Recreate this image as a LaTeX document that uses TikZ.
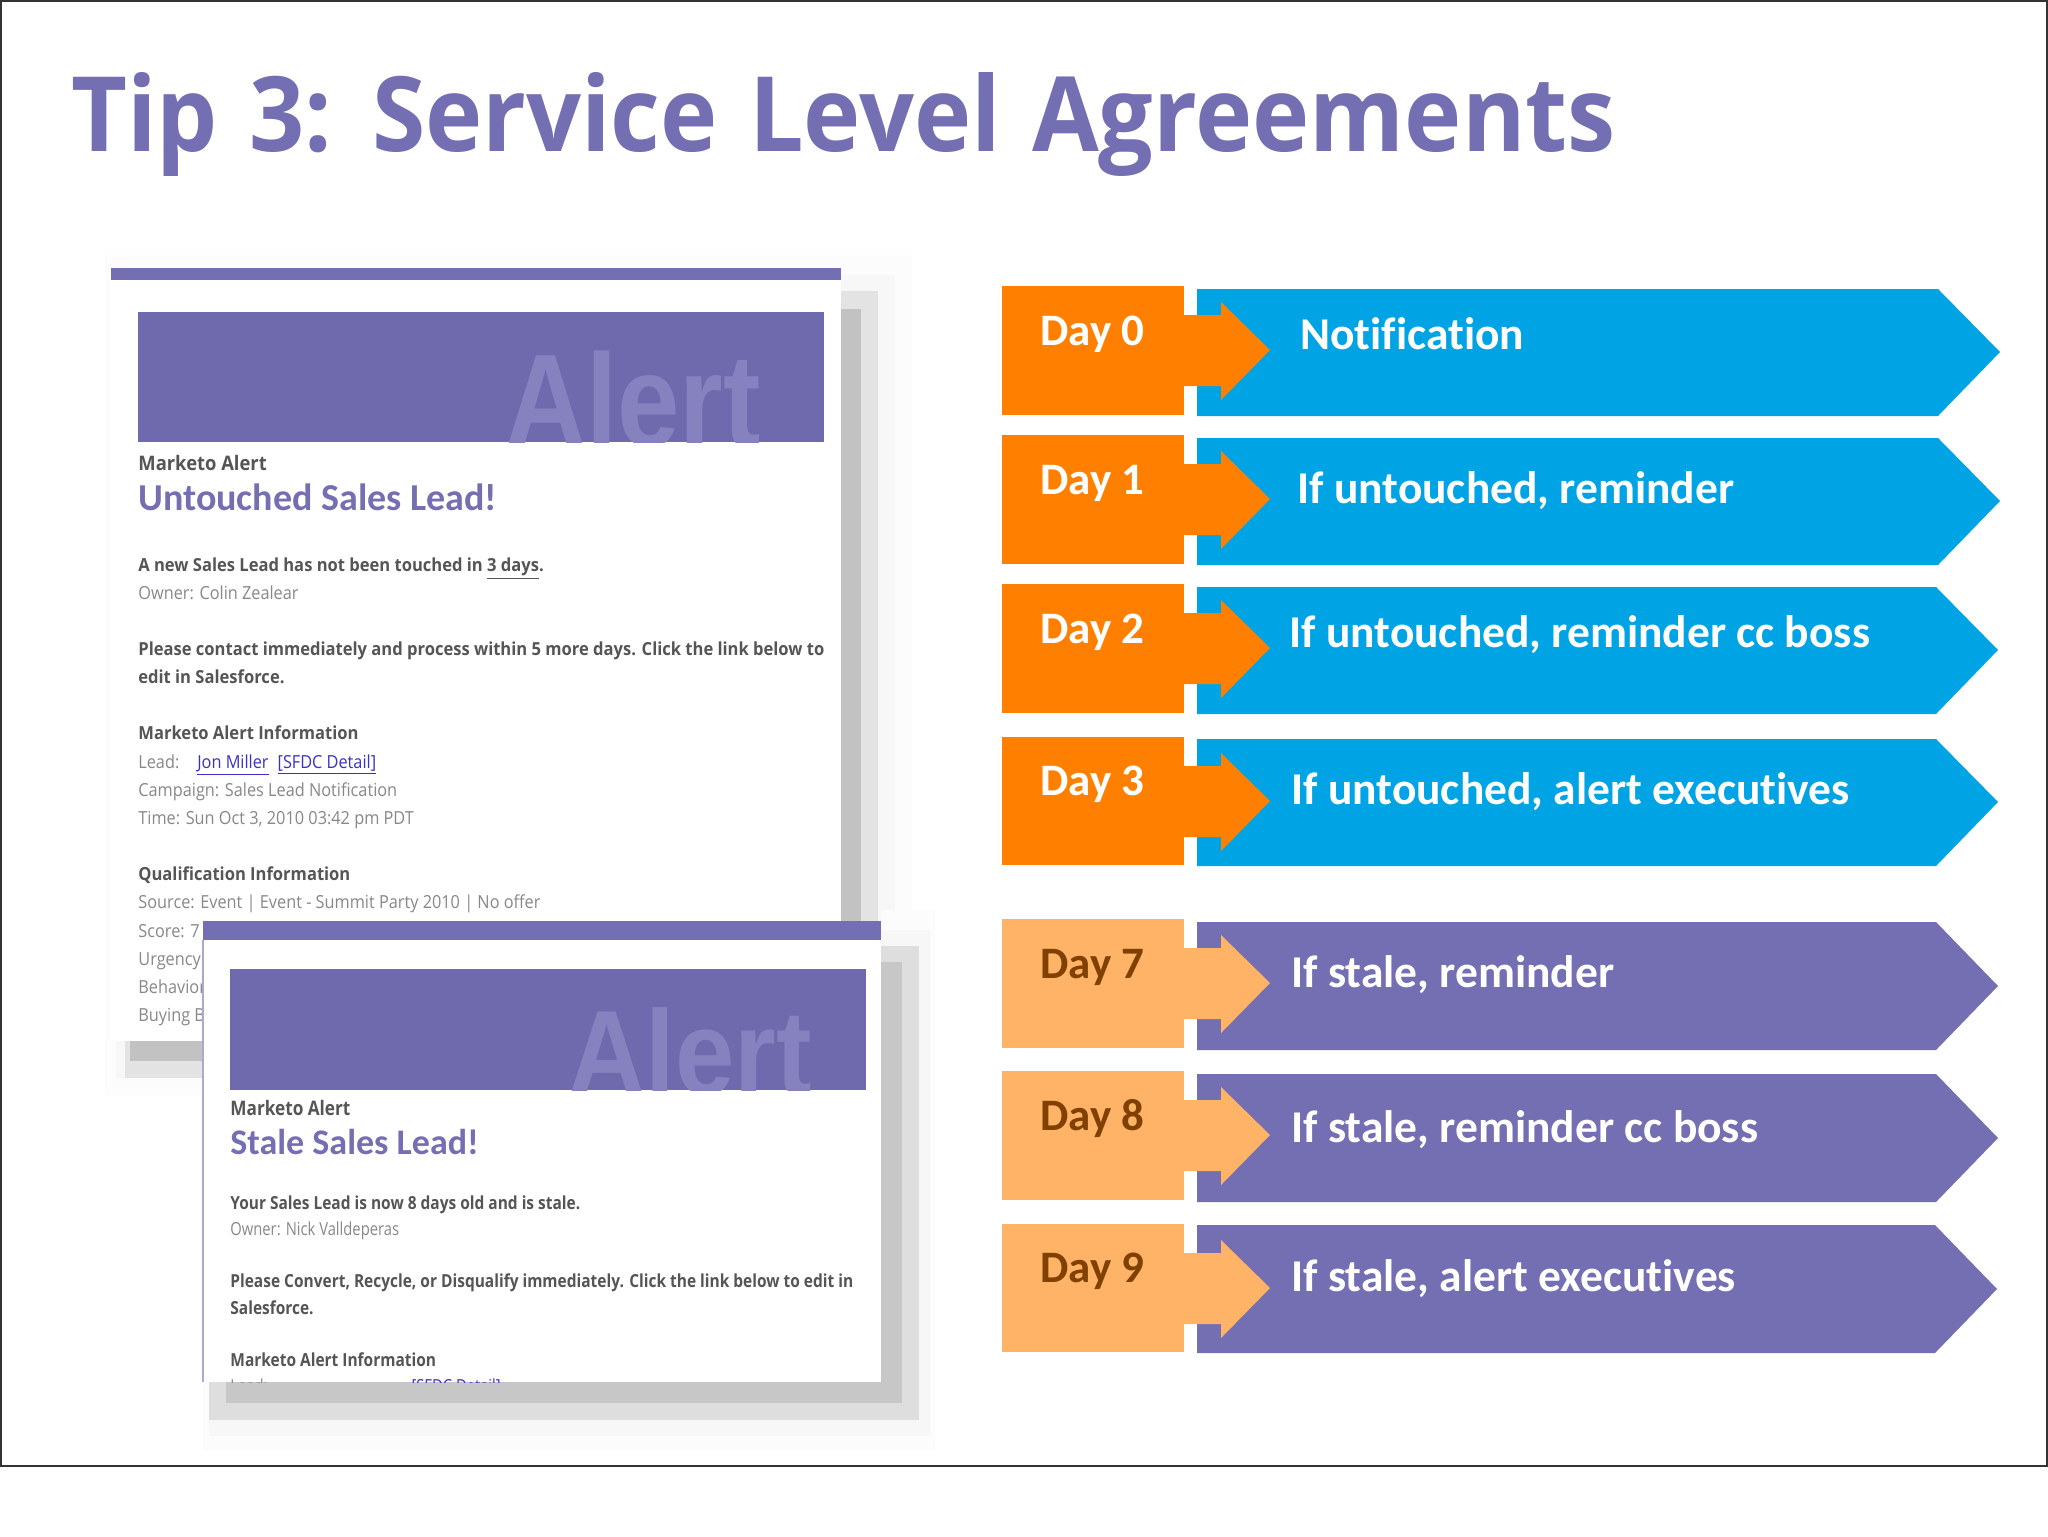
\documentclass[tikz,border=0pt]{standalone}
\usepackage{fontspec}
\setmainfont[Ligatures=NoCommon]{Carlito}
\newfontfamily\titlefont[FakeStretch=0.93,WordSpace=1.25]{Open Sans}
\newfontfamily\mailfont[FakeStretch=0.92]{Open Sans}
\newfontfamily\mailthin[FakeStretch=0.905]{Open Sans}
\newfontfamily\stalefont[FakeStretch=0.86]{Open Sans}
\newfontfamily\stalethin[FakeStretch=0.82]{Open Sans}
\newfontfamily\alertfont[FakeStretch=0.85]{Liberation Sans}
\newfontfamily\alertnarrow[FakeStretch=0.89]{Liberation Sans}
\definecolor{slidepurple}{HTML}{746EB3}
\definecolor{bannerpurple}{HTML}{6F69AE}
\definecolor{alertpurple}{HTML}{8682BF}
\definecolor{dayorange}{HTML}{FF8000}
\definecolor{daypeach}{HTML}{FFB366}
\definecolor{daybrown}{HTML}{7F4000}
\definecolor{rowblue}{HTML}{00A4E4}
\definecolor{mailbold}{HTML}{555555}
\definecolor{mailgrey}{HTML}{888888}
\definecolor{maillink}{HTML}{3A32C8}
\tikzset{
  daylabel/.style={anchor=base west, inner sep=0pt, font=\bfseries\fontsize{22.5}{27}\selectfont},
  rowlabel/.style={anchor=base west, inner sep=0pt, text=white, font=\bfseries\fontsize{22.75}{27}\selectfont},
  mailhead/.style={anchor=base west, inner sep=0pt, text=mailbold, font=\mailfont\bfseries\fontsize{9}{11}\selectfont},
  mailtext/.style={anchor=base west, inner sep=0pt, text=mailgrey, font=\mailthin\fontsize{9}{11}\selectfont},
  stalehead/.style={anchor=base west, inner sep=0pt, text=mailbold, font=\stalefont\bfseries\fontsize{9}{11}\selectfont},
  staletext/.style={anchor=base west, inner sep=0pt, text=mailgrey, font=\stalethin\fontsize{9}{11}\selectfont},
  maillead/.style={anchor=base west, inner sep=0pt, text=slidepurple, font=\bfseries\fontsize{19}{23}\selectfont}
}
\begin{document}
\begin{tikzpicture}[x=0.5pt, y=-0.5pt]
    \useasboundingbox (0,0) rectangle (2048,1536);

    % Slide frame and title
    \draw[line width=1pt, draw=black!80, fill=white] (1,1) rectangle (2047,1466);
    \node[anchor=base west, inner sep=0pt, text=slidepurple, font=\titlefont\bfseries\fontsize{52}{62}\selectfont] (title) at (71,151) {Tip 3: Service Level Agreements};

    % Stepped shadow behind the first mail
    \fill[black!1] (105,255) rectangle (912,1095);
    \fill[black!3] (116,275) rectangle (895,1078);
    \fill[black!11] (125,291) rectangle (878,1078);
    \fill[black!24] (130,309) rectangle (861,1061);

    % First mail
    \fill[white] (111,268) rectangle (841,1041);
    \fill[slidepurple] (111,268) rectangle (841,280);
    \fill[bannerpurple] (138,312) rectangle (824,442);
    \begin{scope}
      \clip (138,312) rectangle (824,442);
      \node[anchor=base west, inner sep=0pt, text=alertpurple, font=\alertfont\bfseries\fontsize{66}{70}\selectfont] (alerta) at (505,446) {Alert};
    \end{scope}
    \node[mailhead, font=\mailfont\bfseries\fontsize{10}{12}\selectfont] (froma) at (138,470) {Marketo Alert};
    \node[maillead] (leada) at (138,510) {Untouched Sales Lead!};
    \node[mailhead] (newa) at (138,571) {A new Sales Lead has not been touched in \underline{3 days}.};
    \node[mailtext] (ownera) at (138,599) {Owner: Colin Zealear};
    \node[mailhead] (pleasea) at (138,655) {Please contact immediately and process within 5 more days. Click the link below to};
    \node[mailhead] (edita) at (138,683) {edit in Salesforce.};
    \node[mailhead] (infoa) at (138,739) {Marketo Alert Information};
    \node[mailtext] (linka) at (138,768) {Lead:\quad\textcolor{maillink}{\underline{Jon Miller}\enspace\underline{[SFDC Detail]}}};
    \node[mailtext] (campa) at (138,796) {Campaign: Sales Lead Notification};
    \node[mailtext] (timea) at (138,824) {Time: Sun Oct 3, 2010 03:42 pm PDT};
    \node[mailhead] (quala) at (138,880) {Qualification Information};
    \node[mailtext] (sourcea) at (138,908) {Source: Event | Event - Summit Party 2010 | No offer};
    \node[mailtext] (scorea) at (138,937) {Score: 7};
    \node[mailtext] (urgenta) at (138,965) {Urgency:};
    \node[mailtext] (behava) at (138,993) {Behavior};
    \node[mailtext] (buya) at (138,1021) {Buying B};

    % Stepped shadow behind the second mail
    \fill[black!1] (203,1041) rectangle (935,1450);
    \fill[black!1] (881,910) rectangle (935,1041);
    \fill[black!3] (209,930) rectangle (930,1436);
    \fill[black!13] (209,946) rectangle (919,1420);
    \fill[black!22] (226,962) rectangle (902,1403);

    % Second mail
    \fill[white] (203,921) rectangle (881,1382);
    \fill[slidepurple] (203,921) rectangle (881,940);
    \draw[line width=0.7pt, draw=slidepurple!60] (203,940) -- (203,1382);
    \fill[bannerpurple] (230,969) rectangle (866,1090);
    \begin{scope}
      \clip (230,969) rectangle (866,1090);
      \node[anchor=base west, inner sep=0pt, text=alertpurple, font=\alertnarrow\bfseries\fontsize{60}{64}\selectfont] (alertb) at (568,1094) {Alert};
    \end{scope}
    \node[stalehead, font=\stalefont\bfseries\fontsize{10}{12}\selectfont] (fromb) at (230,1115) {Marketo Alert};
    \node[maillead, font=\bfseries\fontsize{18}{22}\selectfont] (leadb) at (230,1154) {Stale Sales Lead!};
    \node[stalehead] (newb) at (230,1209) {Your Sales Lead is now 8 days old and is stale.};
    \node[staletext] (ownerb) at (230,1235) {Owner: Nick Valldeperas};
    \node[stalehead] (pleaseb) at (230,1287) {Please Convert, Recycle, or Disqualify immediately. Click the link below to edit in};
    \node[stalehead] (editb) at (230,1314) {Salesforce.};
    \node[stalehead] (infob) at (230,1366) {Marketo Alert Information};
    \begin{scope}
      \clip (204,1372) rectangle (881,1382);
      \node[staletext] (linkb) at (230,1392) {Lead:\qquad\qquad\qquad\qquad\textcolor{maillink}{\underline{[SFDC Detail]}}};
    \end{scope}

    % Blue rows
    \fill[rowblue] (1197,289) -- (1938,289) -- (2000,352) -- (1938,416) -- (1197,416) -- cycle;
    \fill[rowblue] (1197,438) -- (1938,438) -- (2000,501) -- (1938,565) -- (1197,565) -- cycle;
    \fill[rowblue] (1197,587) -- (1936,587) -- (1998,650) -- (1936,714) -- (1197,714) -- cycle;
    \fill[rowblue] (1197,739) -- (1936,739) -- (1998,802) -- (1936,866) -- (1197,866) -- cycle;

    % Purple rows
    \fill[slidepurple] (1197,922) -- (1936,922) -- (1998,986) -- (1936,1050) -- (1197,1050) -- cycle;
    \fill[slidepurple] (1197,1074) -- (1936,1074) -- (1998,1138) -- (1936,1202) -- (1197,1202) -- cycle;
    \fill[slidepurple] (1197,1225) -- (1935,1225) -- (1997,1289) -- (1935,1353) -- (1197,1353) -- cycle;

    % Orange day boxes, each with its arrow
    \fill[dayorange] (1002,286) rectangle (1184,415);
    \fill[dayorange] (1002,435) rectangle (1184,564);
    \fill[dayorange] (1002,584) rectangle (1184,713);
    \fill[dayorange] (1002,737) rectangle (1184,865);
    \fill[dayorange, shift={(1184,286)}] (0,29) -- (37,29) -- (37,16) -- (86,64) -- (37,114) -- (37,100) -- (0,100) -- cycle;
    \fill[dayorange, shift={(1184,435)}] (0,29) -- (37,29) -- (37,16) -- (86,64) -- (37,114) -- (37,100) -- (0,100) -- cycle;
    \fill[dayorange, shift={(1184,584)}] (0,29) -- (37,29) -- (37,16) -- (86,64) -- (37,114) -- (37,100) -- (0,100) -- cycle;
    \fill[dayorange, shift={(1184,737)}] (0,29) -- (37,29) -- (37,16) -- (86,64) -- (37,114) -- (37,100) -- (0,100) -- cycle;

    % Peach day boxes, each with its arrow
    \fill[daypeach] (1002,919) rectangle (1184,1048);
    \fill[daypeach] (1002,1071) rectangle (1184,1200);
    \fill[daypeach] (1002,1224) rectangle (1184,1352);
    \fill[daypeach, shift={(1184,919)}] (0,29) -- (37,29) -- (37,16) -- (86,64) -- (37,114) -- (37,100) -- (0,100) -- cycle;
    \fill[daypeach, shift={(1184,1071)}] (0,29) -- (37,29) -- (37,16) -- (86,64) -- (37,114) -- (37,100) -- (0,100) -- cycle;
    \fill[daypeach, shift={(1184,1224)}] (0,29) -- (37,29) -- (37,16) -- (86,64) -- (37,114) -- (37,100) -- (0,100) -- cycle;

    % Day labels
    \node[daylabel, text=white] (day0) at (1040,345) {Day 0};
    \node[daylabel, text=white] (day1) at (1040,494) {Day 1};
    \node[daylabel, text=white] (day2) at (1040,643) {Day 2};
    \node[daylabel, text=white] (day3) at (1040,795) {Day 3};
    \node[daylabel, text=daybrown] (day7) at (1040,978) {Day 7};
    \node[daylabel, text=daybrown] (day8) at (1040,1130) {Day 8};
    \node[daylabel, text=daybrown] (day9) at (1040,1282) {Day 9};

    % Row labels
    \node[rowlabel] (notify) at (1300,349) {Notification};
    \node[rowlabel] (touch1) at (1297,503) {If untouched, reminder};
    \node[rowlabel] (touch2) at (1289,647) {If untouched, reminder cc boss};
    \node[rowlabel] (touch3) at (1291,804) {If untouched, alert executives};
    \node[rowlabel] (stale1) at (1291,987) {If stale, reminder};
    \node[rowlabel] (stale2) at (1291,1142) {If stale, reminder cc boss};
    \node[rowlabel] (stale3) at (1291,1291) {If stale, alert executives};

\end{tikzpicture}
\end{document}
